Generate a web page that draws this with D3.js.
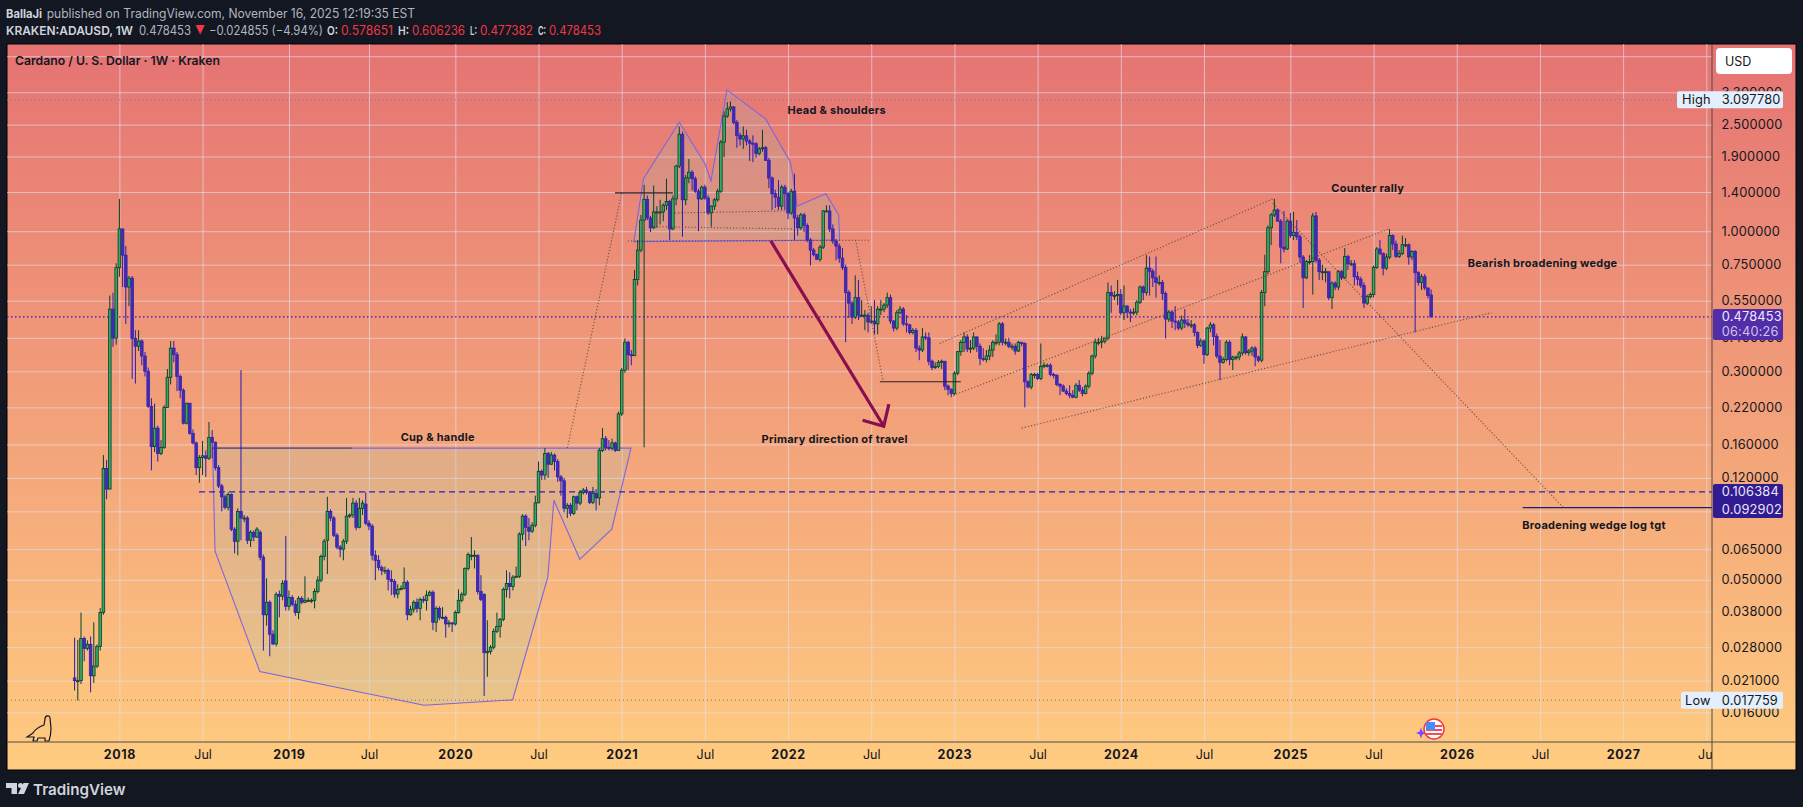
<!DOCTYPE html>
<html><head><meta charset="utf-8">
<script src="https://d3js.org/d3.v7.min.js"></script>
<style>
html,body{margin:0;padding:0;background:#131722;overflow:hidden}
svg{display:block}
text{font-family:Inter,Roboto,sans-serif}
</style></head><body><svg id="c" width="1803" height="807"></svg>
<script>
const opens=[
.0215,.0210,.0210,.0302,.0277,.0287,.0219,.0238,.0282,.0377,
.130,.109,.512,.399,.731,1.02,.814,.619,.668,.398,
.372,.389,.342,.300,.222,.157,.184,.148,.156,.220,
.285,.366,.346,.287,.255,.192,.228,.176,.162,.131,
.143,.145,.142,.170,.163,.131,.112,.102,.0932,.104,
.0772,.0696,.0900,.0850,.0850,.0702,.0752,.0722,.0752,.0607,
.0370,.0412,.0313,.0288,.0441,.0434,.0495,.0398,.0429,.0405,
.0377,.0426,.0412,.0419,.0419,.0419,.0452,.0498,.0611,.0702,
.0900,.0850,.0733,.0662,.0650,.0696,.0864,.0872,.0966,.0785,
.0924,.0958,.0813,.0793,.0617,.0591,.0556,.0542,.0542,.0502,
.0493,.0442,.0460,.0464,.0489,.0370,.0388,.0412,.0391,.0422,
.0419,.0438,.0449,.0347,.0391,.0362,.0362,.0345,.0345,.0342,
.0377,.0419,.0441,.0551,.0617,.0617,.0617,.0452,.0441,.0267,
.0270,.0280,.0321,.0335,.0356,.0460,.0484,.0472,.0511,.0515,
.0740,.0864,.0785,.0759,.0799,.0968,.127,.123,.148,.135,
.146,.138,.121,.117,.0924,.0948,.0885,.102,.0966,.106,
.108,.106,.0972,.105,.101,.152,.168,.156,.155,.162,
.152,.208,.303,.385,.346,.343,.660,.850,1.10,1.315,
1.12,1.03,1.18,1.18,1.18,1.25,1.29,1.02,1.32,1.75,
2.30,1.31,1.58,1.66,1.57,1.41,1.32,1.46,1.33,1.17,
1.24,1.31,1.41,2.15,2.69,2.86,2.91,2.55,2.28,2.21,
2.27,2.17,2.13,2.12,1.95,2.03,2.05,1.84,1.58,1.38,
1.34,1.24,1.46,1.38,1.17,1.41,1.12,1.03,1.15,1.05,
.927,.850,.817,.786,.872,1.19,1.19,1.02,.919,.880,
.794,.733,.590,.539,.478,.565,.486,.486,.486,.458,
.462,.451,.512,.512,.530,.565,.462,.435,.496,.512,
.451,.447,.419,.426,.366,.360,.403,.400,.327,.310,
.313,.324,.327,.264,.257,.248,.295,.355,.384,.403,
.363,.366,.403,.372,.335,.332,.342,.360,.385,.385,
.451,.385,.385,.372,.372,.357,.385,.381,.274,.262,
.292,.292,.282,.313,.316,.316,.292,.290,.268,.264,
.253,.248,.244,.240,.266,.255,.248,.264,.295,.342,
.385,.385,.389,.399,.590,.575,.575,.580,.496,.525,
.499,.496,.499,.543,.619,.590,.728,.709,.670,.644,
.644,.585,.470,.499,.462,.458,.435,.466,.454,.447,
.447,.419,.375,.389,.346,.435,.447,.405,.342,.324,
.332,.385,.332,.339,.339,.351,.403,.352,.357,.366,
.339,.330,.590,.706,1.03,1.15,1.20,1.09,.872,.858,
1.09,.963,.991,.953,.801,.670,.770,.770,1.14,.780,
.706,.706,.706,.565,.640,.619,.706,.670,.805,.756,
.756,.676,.662,.627,.539,.570,.580,.733,.858,.825,
.728,.801,.963,.896,.805,.825,.890,.890,.801,.840,
.700,.644,.676,.614,.578651];
const closes=[
.0210,.0210,.0302,.0277,.0287,.0219,.0238,.0282,.0377,.130,
.109,.512,.399,.731,1.02,.814,.619,.668,.398,.372,
.389,.342,.300,.222,.157,.184,.148,.156,.220,.285,
.366,.346,.287,.255,.192,.228,.176,.162,.131,.143,
.145,.142,.170,.163,.131,.112,.102,.0932,.104,.0772,
.0696,.0900,.0850,.0850,.0702,.0752,.0722,.0772,.0607,.0370,
.0412,.0313,.0288,.0441,.0434,.0485,.0398,.0429,.0405,.0377,
.0426,.0412,.0419,.0419,.0419,.0452,.0498,.0611,.0696,.0900,
.0850,.0733,.0662,.0650,.0696,.0864,.0872,.0966,.0785,.0924,
.0966,.0813,.0793,.0617,.0591,.0556,.0542,.0542,.0502,.0493,
.0442,.0460,.0464,.0489,.0370,.0388,.0412,.0391,.0422,.0419,
.0438,.0449,.0347,.0391,.0362,.0362,.0342,.0345,.0342,.0377,
.0419,.0441,.0551,.0621,.0617,.0617,.0452,.0422,.0267,.0270,
.0280,.0321,.0335,.0356,.0460,.0484,.0472,.0511,.0515,.0740,
.0864,.0785,.0759,.0799,.0968,.127,.123,.148,.135,.146,
.138,.121,.117,.0924,.0948,.0885,.102,.0966,.106,.108,
.106,.0972,.105,.101,.152,.168,.156,.155,.162,.152,
.208,.303,.385,.346,.343,.660,.850,1.10,1.315,1.12,
1.03,1.18,1.18,1.18,1.25,1.29,1.02,1.32,1.75,2.30,
1.31,1.58,1.66,1.57,1.41,1.32,1.46,1.33,1.17,1.24,
1.31,1.41,2.15,2.69,2.86,2.91,2.55,2.28,2.21,2.27,
2.17,2.13,2.12,1.95,2.03,2.05,1.84,1.58,1.38,1.34,
1.24,1.46,1.38,1.17,1.41,1.12,1.03,1.15,1.05,.927,
.850,.817,.786,.872,1.19,1.19,1.02,.919,.880,.794,
.733,.590,.539,.478,.565,.486,.486,.486,.458,.462,
.451,.512,.512,.530,.565,.462,.435,.496,.512,.451,
.447,.419,.426,.366,.360,.403,.400,.327,.310,.313,
.324,.327,.264,.257,.248,.295,.355,.384,.403,.363,
.366,.403,.372,.335,.332,.342,.360,.385,.385,.451,
.385,.385,.372,.372,.357,.385,.381,.274,.262,.292,
.292,.282,.313,.316,.316,.292,.290,.268,.264,.253,
.248,.244,.240,.266,.255,.248,.264,.295,.342,.385,
.385,.389,.399,.590,.575,.575,.580,.496,.525,.499,
.496,.499,.543,.619,.590,.728,.709,.670,.644,.644,
.585,.470,.499,.462,.458,.435,.466,.454,.447,.447,
.419,.375,.389,.346,.435,.447,.405,.342,.324,.332,
.385,.332,.339,.339,.351,.403,.352,.357,.366,.339,
.330,.590,.706,1.03,1.15,1.20,1.09,.872,.858,1.09,
.963,.991,.953,.801,.670,.770,.770,1.14,.780,.706,
.706,.706,.565,.640,.619,.706,.670,.805,.756,.756,
.676,.662,.627,.539,.570,.580,.733,.858,.825,.728,
.801,.963,.896,.805,.825,.890,.890,.801,.840,.700,
.644,.676,.614,.575,.478453];
const highs=[
.0304,.0298,.0377,.0307,.0297,.0307,.0347,.0287,.0392,.146,
.140,.575,.590,.759,1.32,1.02,.880,.680,.680,.427,
.427,.395,.354,.310,.238,.227,.188,.166,.224,.306,
.389,.389,.354,.292,.259,.228,.228,.182,.164,.146,
.165,.152,.194,.181,.164,.134,.114,.104,.106,.105,
.0785,.0924,.303,.0872,.0864,.0765,.0765,.0785,.0765,.0621,
.0506,.0419,.0324,.0449,.0456,.0498,.0727,.0456,.0438,.0419,
.0434,.0434,.0515,.0429,.0426,.0464,.0515,.0621,.0710,.102,
.0916,.0864,.0747,.0674,.0710,.101,.0885,.101,.0990,.101,
.0990,.106,.0834,.0807,.0644,.0617,.0565,.0560,.0551,.0542,
.0502,.0481,.0476,.0556,.0498,.0400,.0419,.0426,.0429,.0434,
.0456,.0456,.0456,.0398,.0398,.0395,.0367,.0353,.0347,.0384,
.0460,.0449,.0556,.0632,.0722,.0644,.0621,.0520,.0445,.0353,
.0285,.0329,.0377,.0360,.0468,.0542,.0533,.0520,.0560,.0752,
.0878,.0878,.0850,.0820,.103,.138,.129,.155,.150,.150,
.148,.141,.123,.120,.0966,.0966,.103,.103,.108,.110,
.111,.107,.111,.109,.155,.184,.172,.166,.168,.164,
.212,.308,.398,.389,.360,.716,.927,1.15,1.49,1.36,
1.14,1.48,1.24,1.31,1.27,1.57,1.31,1.36,1.77,2.46,
2.35,1.62,1.86,1.69,1.60,1.44,1.48,1.49,1.36,1.25,
1.33,1.44,2.19,2.80,3.03,3.05,2.93,2.60,2.33,2.46,
2.39,2.21,2.28,2.15,2.06,2.39,2.08,1.88,1.60,1.43,
1.55,1.49,1.49,1.40,1.44,1.64,1.15,1.17,1.17,1.07,
.943,.865,.825,.888,1.20,1.25,1.25,1.06,.935,.900,
.865,.750,.603,.549,.684,.657,.553,.508,.496,.525,
.553,.525,.553,.539,.590,.580,.466,.508,.525,.521,
.486,.451,.435,.435,.375,.435,.419,.419,.332,.324,
.330,.332,.313,.268,.259,.300,.357,.392,.419,.412,
.392,.419,.405,.381,.366,.360,.375,.392,.412,.458,
.458,.398,.400,.381,.381,.389,.385,.385,.278,.296,
.296,.296,.381,.324,.321,.321,.296,.292,.271,.268,
.259,.266,.255,.271,.278,.262,.268,.300,.346,.398,
.400,.407,.400,.644,.627,.596,.657,.608,.627,.530,
.512,.517,.553,.627,.627,.814,.805,.723,.805,.684,
.657,.596,.508,.508,.525,.466,.484,.512,.470,.466,
.454,.423,.398,.395,.439,.458,.454,.415,.392,.339,
.392,.392,.343,.343,.357,.415,.405,.363,.372,.372,
.343,.603,.817,1.05,1.17,1.32,1.21,1.11,1.19,1.11,
1.17,1.18,1.10,.973,.814,.780,.814,1.17,1.18,.794,
.750,.728,.670,.650,.650,.716,.716,.865,.817,.780,
.780,.706,.676,.644,.580,.590,.745,.872,.927,.833,
.825,1.02,.973,.922,.850,.963,.943,.900,.850,.850,
.709,.692,.692,.614,.606236];
const lows=[
.0193,.0177,.0204,.0248,.0272,.0190,.0206,.0234,.0272,.0370,
.0999,.306,.370,.377,.676,.619,.451,.525,.281,.270,
.357,.316,.287,.219,.128,.150,.138,.146,.154,.219,
.268,.324,.253,.238,.190,.190,.174,.160,.123,.115,
.123,.121,.140,.142,.128,.110,.0900,.0916,.0908,.0759,
.0628,.0617,.0702,.0820,.0680,.0663,.0696,.0716,.0591,.0272,
.0337,.0259,.0285,.0282,.0362,.0419,.0384,.0384,.0398,.0367,
.0356,.0405,.0409,.0412,.0409,.0391,.0445,.0489,.0591,.0525,
.0827,.0722,.0650,.0607,.0591,.0680,.0850,.0850,.0765,.0778,
.0872,.0799,.0765,.0591,.0498,.0542,.0520,.0525,.0456,.0438,
.0429,.0426,.0456,.0460,.0353,.0367,.0377,.0377,.0353,.0409,
.0384,.0434,.0324,.0319,.0353,.0356,.0304,.0332,.0319,.0337,
.0373,.0412,.0434,.0542,.0591,.0551,.0441,.0416,.0184,.0217,
.0263,.0275,.0316,.0304,.0350,.0429,.0426,.0456,.0507,.0507,
.0702,.0668,.0702,.0747,.0785,.0966,.118,.118,.120,.134,
.128,.116,.103,.0892,.0850,.0864,.0872,.0908,.0948,.104,
.104,.0958,.0958,.0908,.0948,.150,.152,.152,.152,.150,
.152,.204,.296,.303,.316,.343,.627,.835,.156,1.10,
.992,1.02,1.03,1.06,1.09,1.20,.927,1.01,1.25,1.72,
.953,1.25,1.51,1.42,1.39,1.00,1.31,1.31,1.15,1.04,
1.20,1.29,1.39,1.89,2.65,2.80,2.50,2.05,2.09,2.03,
2.09,1.83,1.81,1.88,1.92,1.98,1.83,1.45,1.20,1.22,
1.20,1.20,1.20,1.11,1.15,.927,.963,1.01,.992,.911,
.745,.805,.780,.770,.858,1.18,.992,.896,.780,.763,
.716,.385,.474,.451,.470,.466,.478,.427,.419,.451,
.412,.412,.486,.499,.517,.451,.423,.427,.491,.443,
.419,.412,.412,.354,.330,.354,.392,.316,.303,.306,
.308,.306,.255,.244,.240,.244,.290,.343,.354,.354,
.351,.360,.354,.316,.327,.324,.330,.339,.375,.375,
.375,.375,.366,.360,.346,.354,.372,.220,.259,.257,
.282,.278,.278,.308,.310,.287,.282,.264,.244,.251,
.244,.238,.238,.238,.251,.242,.246,.259,.290,.335,
.375,.366,.381,.392,.496,.553,.530,.486,.466,.474,
.458,.486,.486,.535,.553,.575,.575,.619,.565,.627,
.553,.398,.458,.435,.427,.427,.427,.435,.439,.435,
.405,.366,.370,.320,.342,.419,.375,.335,.278,.320,
.327,.316,.303,.330,.330,.343,.346,.343,.343,.313,
.324,.324,.525,.692,.888,1.13,1.09,.759,.833,.850,
.943,.927,.927,.763,.517,.662,.750,.580,.763,.657,
.657,.644,.553,.512,.603,.603,.657,.662,.716,.741,
.627,.627,.614,.517,.530,.561,.565,.723,.814,.684,
.716,.786,.850,.794,.794,.814,.872,.750,.780,.419,
.627,.603,.603,.561,.477382];
const firstWeek=-14;
const priceTicks=[4.5,3.3,2.5,1.9,1.4,1.0,.75,.55,.4,.3,.22,.16,.12,.09,.065,.05,.038,.028,.021,.016];
const hiddenPriceLabels=[4.5,.09];
const timeTickWeeks=[0,26,53,78,105,131,157,183,209,235,261,287,313,339,366,392,418,444,470,496];
const timeTickLabels=["2018","Jul","2019","Jul","2020","Jul","2021","Jul","2022","Jul","2023","Jul","2024","Jul","2025","Jul","2026","Jul","2027","Jul"];
const cupShape=[[29.1,.155],[29.9,.0639],[43.9,.0227],[95.2,.0170],[122.9,.0178],[133.9,.0511],[135.8,.099],[143.9,.0596],[153.9,.0772],[159.9,.155]];
const headShouldersShape=[[160.8,.914],[163.8,1.57],[175,2.55],[183,1.79],[184.9,1.54],[189.9,3.37],[202,2.62],[209.6,1.82],[210.4,1.64],[211.8,1.24],[220.8,1.38],[224.8,1.15],[225.1,.927]];
const dottedLines=[[158.9,.919,234.3,.925],[140,.155,157,1.39],[230.1,.927,238.7,.276],[173.6,1.17,208,1.19],[166.8,1.04,210.5,1.02],[256.4,.381,360.5,1.32],[260.6,.244,396.8,1.02],[282,.184,428.8,.496],[360.5,1.27,451.4,.0928]];
const solidLines=[[154.9,1.39,173,1.39],[237.7,.274,263,.274]];
const cupRim=[[29.1,.155],[72.6,.155]];
const arrowShaft=[[203.6,.92],[238.9,.187]];
const arrowHead=[[232.3,.197],[238.9,.187],[240.5,.226]];
const lastPrice=.478453, highPrice=3.09778, lowPrice=.017759, dashedLevel=.106384, targetLevel=.092902;
const notes=[["Head & shoulders",208.8,2.83],["Cup & handle",87.9,.170],["Primary direction of travel",200.7,.168],["Counter rally",378.8,1.45],["Bearish broadening wedge",421.4,.76],["Broadening wedge log tgt",438.5,.0800]];

const L=7,R=1712,RR=1796,T=44,B=742,BB=770;
const x=d3.scaleLinear().domain([0,496]).range([119.4,1706.3]);
const y=d3.scaleLog().domain([3.3,.016]).range([92.3,712.3]);
const svg=d3.select("#c");
const defs=svg.append("defs");
const g=defs.append("linearGradient").attr("id","bg").attr("gradientUnits","userSpaceOnUse").attr("x1",0).attr("x2",0).attr("y1",T).attr("y2",BB);
g.append("stop").attr("offset",0).attr("stop-color","#E57373");
g.append("stop").attr("offset",1).attr("stop-color","#FFCC80");
defs.append("clipPath").attr("id","plot").append("rect").attr("x",L).attr("y",T).attr("width",R-L).attr("height",B-T);
defs.append("clipPath").attr("id","time").append("rect").attr("x",L).attr("y",B).attr("width",R-L).attr("height",BB-B);
svg.append("rect").attr("x",L).attr("y",T).attr("width",RR-L).attr("height",BB-T).attr("fill","url(#bg)").attr("stroke","#000").attr("stroke-width",1);

const gridCol="rgba(225,226,240,.62)";
const plot=svg.append("g").attr("clip-path","url(#plot)");
const yGrid=plot.append("g").attr("transform",`translate(${R},0)`).call(d3.axisLeft(y).tickValues(priceTicks).tickSize(R-L).tickFormat(""));
yGrid.select(".domain").remove();yGrid.selectAll("line").attr("stroke",gridCol).attr("stroke-width",1);
const xGrid=plot.append("g").attr("transform",`translate(0,${B})`).call(d3.axisTop(x).tickValues(timeTickWeeks).tickSize(B-T).tickFormat(""));
xGrid.select(".domain").remove();xGrid.selectAll("line").attr("stroke",gridCol).attr("stroke-width",1);

const fillShape="rgba(155,200,183,.2)",edge="#7B66DE";
const area=d3.line().x(d=>x(d[0])).y(d=>y(d[1]));
[cupShape,headShouldersShape].forEach(s=>{
  plot.append("path").attr("d",area(s)+"Z").attr("fill",fillShape).attr("stroke",edge).attr("stroke-width",1.1);
});
plot.append("path").attr("d",area(cupRim)).attr("stroke","#5d5566").attr("stroke-width",1.2);

const lv=(p,x1,col,dash,w)=>plot.append("line").attr("x1",x1).attr("x2",R).attr("y1",y(p)).attr("y2",y(p)).attr("stroke",col).attr("stroke-dasharray",dash).attr("stroke-width",w||1);
lv(highPrice,L,"#5f8f96","1 3");
lv(lowPrice,L,"#7a7a78","1 3");
lv(lastPrice,L,"#3b16c4","1.5 2.5",1.2);
lv(dashedLevel,x(24.9),"#2a20c0","6 4",1.1);
lv(targetLevel,x(438.6),"#211a78","",1.1);

const idx=d3.range(opens.length);
const up=i=>closes[i]>=opens[i];
const xc=i=>x(firstWeek+i);
plot.append("g").selectAll("line").data(idx).join("line")
 .attr("x1",xc).attr("x2",xc)
 .attr("y1",i=>y(Math.max(highs[i],opens[i],closes[i])))
 .attr("y2",i=>y(Math.min(lows[i],opens[i],closes[i])))
 .attr("stroke",i=>up(i)?"#03402c":"#2a1cb0").attr("stroke-width",1);
plot.append("g").selectAll("rect").data(idx).join("rect")
 .attr("x",i=>xc(i)-1.3).attr("width",2.6)
 .attr("y",i=>y(Math.max(opens[i],closes[i])))
 .attr("height",i=>Math.max(1,Math.abs(y(opens[i])-y(closes[i]))))
 .attr("fill",i=>up(i)?"#38a861":"#3f2bb8")
 .attr("stroke",i=>up(i)?"#03402c":"#3a20b0").attr("stroke-width",.8);

plot.append("g").selectAll("line").data(dottedLines).join("line")
 .attr("x1",d=>x(d[0])).attr("y1",d=>y(d[1])).attr("x2",d=>x(d[2])).attr("y2",d=>y(d[3]))
 .attr("stroke","#4a4440").attr("stroke-opacity",.8).attr("stroke-width",1.1).attr("stroke-dasharray","1.2 2");
plot.append("g").selectAll("line").data(solidLines).join("line")
 .attr("x1",d=>x(d[0])).attr("y1",d=>y(d[1])).attr("x2",d=>x(d[2])).attr("y2",d=>y(d[3]))
 .attr("stroke","#2a1f2a").attr("stroke-width",1.1);
plot.append("path").attr("d",area(arrowShaft)).attr("fill","none").attr("stroke","#880E4F").attr("stroke-width",3.2);
plot.append("path").attr("d",area(arrowHead)).attr("fill","none").attr("stroke","#880E4F").attr("stroke-width",3.2);
svg.append("g").selectAll("text").data(notes).join("text").text(d=>d[0])
 .attr("x",d=>x(d[1])).attr("y",d=>y(d[2])).attr("dominant-baseline","central")
 .attr("font-size",11).attr("font-weight",700).attr("fill","#131722").attr("letter-spacing",".25");

svg.append("path").attr("d","M27,737 L33,733 C36,728 41,726 44,725 L45,719 C45,715 50,715 50,718 L51,728 C51,733 50,738 49,741 L45,741 L45,738 L38,738 L37,741 L33,741 L34,737 Z")
 .attr("fill","none").attr("stroke","#131722").attr("stroke-width",1.2);

svg.append("line").attr("x1",R).attr("x2",R).attr("y1",T).attr("y2",BB).attr("stroke","#4a4a4a");
svg.append("line").attr("x1",L).attr("x2",RR).attr("y1",B).attr("y2",B).attr("stroke","#4a4a4a");
const f6=d3.format(".6f");
const yAx=svg.append("g").attr("transform",`translate(${R},0)`).call(d3.axisRight(y).tickValues(priceTicks).tickSize(0).tickPadding(9.5).tickFormat(d=>hiddenPriceLabels.includes(d)?"":f6(d)));
yAx.select(".domain").remove();
yAx.selectAll("text").attr("font-size",12.8).attr("fill","#131722").attr("font-family","Inter").attr("letter-spacing",".2");
const xAx=svg.append("g").attr("clip-path","url(#time)").append("g").attr("transform",`translate(0,${B})`).call(d3.axisBottom(x).tickValues(timeTickWeeks).tickSize(0).tickPadding(8).tickFormat((d,i)=>timeTickLabels[i]));
xAx.select(".domain").remove();
xAx.selectAll("text").attr("font-size",12.5).attr("fill","#131722").attr("font-family","Inter")
 .attr("font-weight",(d,i)=>timeTickLabels[i]==="Jul"?400:700).attr("letter-spacing",(d,i)=>timeTickLabels[i]==="Jul"?"0":".6");

svg.append("rect").attr("x",1716).attr("y",48).attr("width",76).attr("height",26).attr("rx",4).attr("fill","#fff");
svg.append("text").text("USD").attr("x",1725).attr("y",61).attr("dominant-baseline","central").attr("font-size",12.5).attr("fill","#131722");

const tag=(x0,w,p,h,fill)=>svg.append("rect").attr("x",x0).attr("y",y(p)-h/2).attr("width",w).attr("height",h).attr("rx",2).attr("fill",fill);
const lab=(s,x0,yy,col)=>svg.append("text").text(s).attr("x",x0).attr("y",yy).attr("dominant-baseline","central").attr("font-size",12.8).attr("fill",col).attr("letter-spacing",".2");
tag(1677,106,highPrice,17,"#E3EFFD");
lab("High",1682,y(highPrice),"#131722");lab(f6(highPrice),1721.7,y(highPrice),"#131722");
tag(1681,102,lowPrice,17,"#E3EFFD");
lab("Low",1685,y(lowPrice),"#131722");lab(f6(lowPrice),1721.7,y(lowPrice),"#131722");
svg.append("rect").attr("x",1713).attr("y",309).attr("width",70).attr("height",31).attr("rx",2).attr("fill","#512DA8");
lab(f6(lastPrice),1721.7,y(lastPrice),"#f0e8ff");lab("06:40:26",1721.7,331.5,"#cfc2ee");
svg.append("rect").attr("x",1713).attr("y",484).attr("width",70).attr("height",34).attr("rx",2).attr("fill","#311B92");
lab(f6(dashedLevel),1721.7,y(dashedLevel),"#e8e6f6");lab(f6(targetLevel),1721.7,y(targetLevel)+2,"#e8e6f6");

const fl=svg.append("g").attr("transform","translate(1434,729)");
fl.append("path").attr("d","M-13,-4 L-11.5,0 -8,1.5 -11.5,3 -13,7 -14.5,3 -18,1.5 -14.5,0 Z").attr("transform","translate(0,2.5)").attr("fill","#7C4DFF");
fl.append("circle").attr("r",10).attr("fill","#fff").attr("stroke","#F23645").attr("stroke-width",1.5);
[-4,0,4].forEach(v=>fl.append("rect").attr("x",-8).attr("y",v).attr("width",16).attr("height",2).attr("fill","#F0505A"));
fl.append("rect").attr("x",-8).attr("y",-7).attr("width",9).attr("height",8).attr("fill","#4C8BF5");

const head=(s,x0,x1,yy,col,w)=>svg.append("text").text(s).attr("x",x0).attr("y",yy).attr("dominant-baseline","central").attr("font-size",12.4).attr("font-family","Open Sans").attr("font-weight",w||400).attr("fill",col).attr("textLength",x1-x0).attr("lengthAdjust","spacingAndGlyphs");
head("BallaJi",6,42,13,"#d1d4dc",700);
head("published on TradingView.com, November 16, 2025 12:19:35 EST",46.7,415,13,"#b2b5be");
head("KRAKEN:ADAUSD, 1W",6,133,30,"#d1d4dc",600);
head("0.478453",139,191,30,"#b2b5be");
head("▼",195,205,30,"#F23645");
head("−0.024855 (−4.94%)",209,323,30,"#b2b5be");
head("O:",327,338,30,"#d1d4dc",600);head("0.578651",341,393,30,"#F23645");
head("H:",398,409,30,"#d1d4dc",600);head("0.606236",412,465,30,"#F23645");
head("L:",470,477,30,"#d1d4dc",600);head("0.477382",480,533,30,"#F23645");
head("C:",538,546,30,"#d1d4dc",600);head("0.478453",549,601,30,"#F23645");
svg.append("text").text("Cardano / U. S. Dollar · 1W · Kraken").attr("x",15).attr("y",60).attr("dominant-baseline","central").attr("font-size",12.2).attr("font-family","Open Sans").attr("font-weight",600).attr("fill","#131722").attr("textLength",205).attr("lengthAdjust","spacingAndGlyphs");

const lg=svg.append("g").attr("fill","#d1d4dc");
lg.append("path").attr("d","M6,783 H17 V794 H11.5 V788 H6 Z");
lg.append("circle").attr("cx",20.5).attr("cy",785.5).attr("r",2.5);
lg.append("path").attr("d","M23.5,783 H29 L24,794 H18 Z");
lg.append("text").text("TradingView").attr("x",33).attr("y",789).attr("dominant-baseline","central").attr("font-size",15.2).attr("font-weight",600);
</script></body></html>
